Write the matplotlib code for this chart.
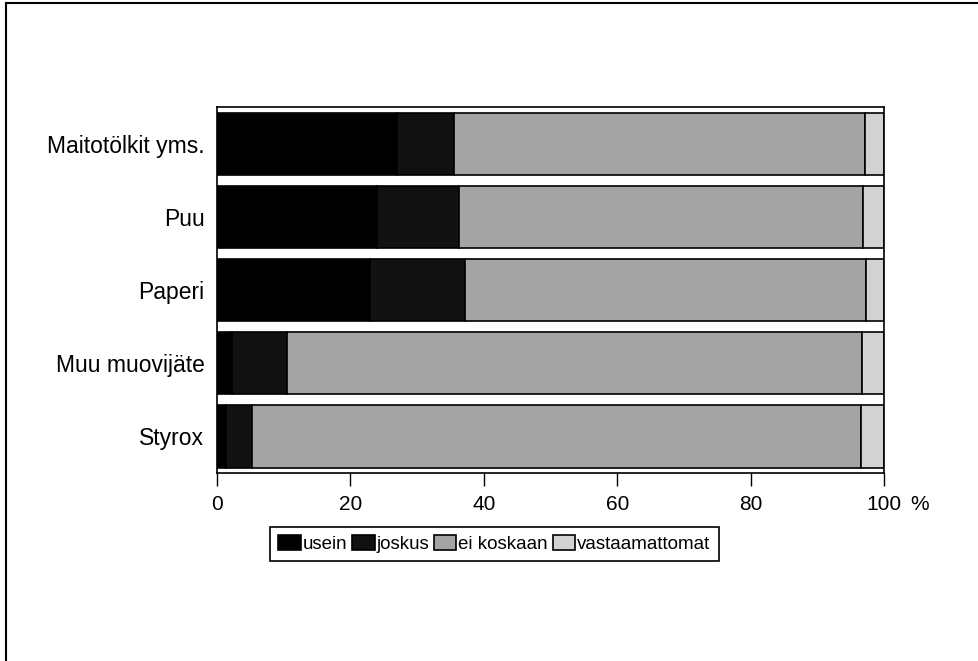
import matplotlib
matplotlib.use('Agg')
import matplotlib.pyplot as plt
from matplotlib.lines import Line2D
import numpy as np

plt.rcParams['font.family'] = ['Liberation Sans', 'DejaVu Sans']

categories = ['Maitotölkit yms.', 'Puu', 'Paperi', 'Muu muovijäte', 'Styrox']
series_names = ['usein', 'joskus', 'ei koskaan', 'vastaamattomat']
usein = [27.0, 24.0, 23.0, 2.2, 1.4]
joskus = [8.5, 12.3, 14.2, 8.3, 3.8]
ei_koskaan = [61.7, 60.5, 60.1, 86.2, 91.3]
vastaamattomat = [2.8, 3.2, 2.7, 3.3, 3.5]
x_ticks = [0, 20, 40, 60, 80, 100]

colors = ['#000000', '#111111', '#a4a4a4', '#d2d2d2']

fig = plt.figure(figsize=(9.79, 6.61), dpi=100)
ax = fig.add_axes([0.2216, 0.2844, 0.6814, 0.5536])

y = np.arange(len(categories))
left = np.zeros(len(categories))
for name, vals, c in zip(series_names, [usein, joskus, ei_koskaan, vastaamattomat], colors):
    ax.barh(y, vals, left=left, height=0.85, color=c, edgecolor='black',
            linewidth=1.2, label=name)
    left += np.array(vals)

ax.set_ylim(len(categories) - 0.5, -0.5)
ax.set_xlim(0, 100)
ax.set_yticks(y)
ax.set_yticklabels(categories, fontsize=16.5)
ax.set_xticks(x_ticks)
ax.set_xticklabels([str(t) for t in x_ticks], fontsize=15)
ax.tick_params(axis='y', length=0, pad=9)
ax.tick_params(axis='x', length=9, width=1, pad=7, direction='out')
for s in ax.spines.values():
    s.set_linewidth(1.2)

# percent sign next to the last tick label
ax.annotate('%', xy=(1, 0), xycoords='axes fraction', xytext=(25.5, -16),
            textcoords='offset points', va='top', ha='center', fontsize=15)

leg = ax.legend(loc='center', bbox_to_anchor=(0.505, 0.177),
                bbox_transform=fig.transFigure, ncol=4, fontsize=13.5,
                frameon=True, fancybox=False, framealpha=1,
                handlelength=1.2, handleheight=0.8, handletextpad=0.1,
                columnspacing=0.25, borderpad=0.45, borderaxespad=0)
leg.get_frame().set_edgecolor('black')
leg.get_frame().set_linewidth(1.2)

# outer border of the page (top and left only)
fig.add_artist(Line2D([6 / 979, 1], [1 - 3 / 661, 1 - 3 / 661],
                      transform=fig.transFigure, color='black', lw=1.5))
fig.add_artist(Line2D([6 / 979, 6 / 979], [0, 1 - 3 / 661],
                      transform=fig.transFigure, color='black', lw=1.5))

fig.savefig('out.png', dpi=100)
